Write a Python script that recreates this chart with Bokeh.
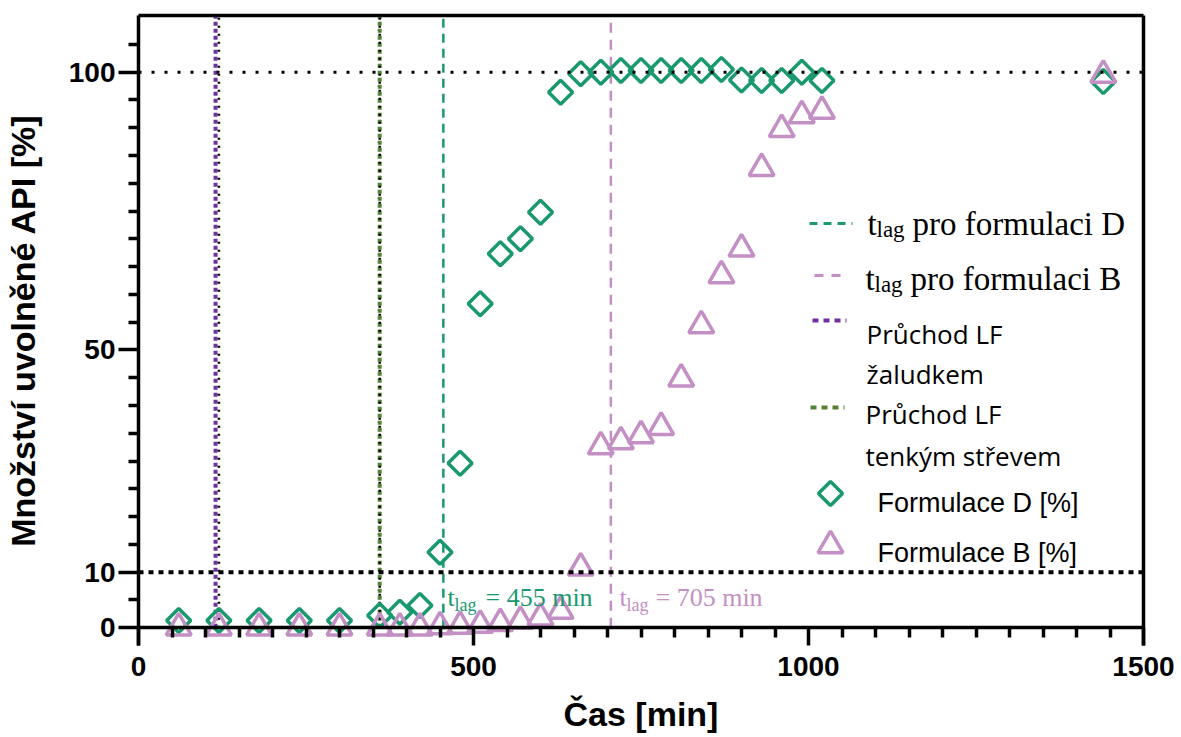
import numpy as np
from bokeh.plotting import figure
from bokeh.models import Range1d, FixedTicker, LinearAxis
from bokeh.core.properties import value
from bokeh.embed import file_html
from bokeh.resources import INLINE

# ---------------- data ----------------
time_d = [60, 120, 180, 240, 300, 360, 390, 420, 450, 480, 510, 540, 570, 600, 630, 660,
          690, 720, 750, 780, 810, 840, 870, 900, 930, 960, 990, 1020, 1440]
release_d = [1.3, 1.3, 1.3, 1.3, 1.3, 2.2, 2.8, 4.0, 13.6, 29.6, 58.3, 67.3, 70.0, 74.8, 96.4, 99.7,
             100.0, 100.3, 100.3, 100.3, 100.3, 100.3, 100.5, 98.6, 98.5, 98.5, 100.0, 98.5, 98.3]
time_b = [60, 120, 180, 240, 300, 360, 390, 420, 450, 480, 510, 540, 570, 600, 630, 660,
          690, 720, 750, 780, 810, 840, 870, 900, 930, 960, 990, 1020, 1440]
release_b = [0.0, 0.0, 0.0, 0.0, 0.0, 0.0, 0.0, 0.0, 0.2, 0.3, 0.5, 0.8, 1.2, 1.8, 3.0, 10.8,
             32.6, 33.5, 34.6, 36.1, 44.8, 54.4, 63.4, 68.2, 82.7, 89.7, 92.2, 93.0, 99.5]

tlag_d = 455
tlag_b = 705
stomach_passage = 115
intestine_passage = 360
prism_ref_x = [120, 360]
ref_levels_y = [100, 10]

x_ticks = [0, 500, 1000, 1500]
x_minor = [v for v in range(50, 1500, 50) if v % 500]
y_ticks = [0, 10, 50, 100]
y_minor = [5, 15, 20, 25, 30, 35, 40, 45, 55, 60, 65, 70, 75, 80, 85, 90, 95, 105]

# ---------------- styles ----------------
C_D = "#1a9870"
C_B = "#c48fc4"
C_PURPLE = "#7030a0"
C_OLIVE = "#548235"
SERIF = value("Liberation Serif")
SANS = value("Liberation Sans")
OPEN = value("Open Sans")

X0, X1 = 0, 1500
Y0, Y1 = -3.2, 110.2
FL, FT, FW, FH = 136, 15, 1005, 630


def dx(px):
    return X0 + (px - FL) / FW * (X1 - X0)


def dy(py):
    return Y1 - (py - FT) / FH * (Y1 - Y0)


p = figure(frame_width=FW, frame_height=FH,
           x_range=Range1d(X0, X1), y_range=Range1d(Y0, Y1),
           output_backend="svg", toolbar_location=None,
           min_border_left=FL, min_border_right=40, min_border_top=FT, min_border_bottom=92)
p.grid.visible = False
p.outline_line_color = None
p.background_fill_color = "white"
p.border_fill_color = "white"

# x axis line and minor ticks at y = 0
xa = p.xaxis[0]
xa.fixed_location = 0
xa.ticker = FixedTicker(ticks=[], minor_ticks=x_minor)
xa.axis_line_width = 3.5
xa.axis_line_color = "black"
xa.major_tick_in = 0
xa.major_tick_out = 0
xa.minor_tick_in = 0
xa.minor_tick_out = 10
xa.minor_tick_line_width = 3.5
xa.major_label_standoff = 0

# x axis labels and major ticks (axis below the frame, ticks reaching up to y = 0)
xl = LinearAxis(ticker=FixedTicker(ticks=x_ticks))
xl.axis_line_color = None
xl.major_tick_in = 18
xl.major_tick_out = 0
xl.major_tick_line_width = 3.5
xl.major_tick_line_color = "black"
xl.minor_tick_line_color = None
xl.minor_tick_in = 0
xl.minor_tick_out = 0
xl.major_label_text_font = "Liberation Sans"
xl.major_label_text_font_style = "bold"
xl.major_label_text_font_size = "28px"
xl.major_label_text_color = "black"
xl.major_label_standoff = 11
xl.axis_label = "Čas [min]"
xl.axis_label_text_font = "Liberation Sans"
xl.axis_label_text_font_style = "bold"
xl.axis_label_text_font_size = "34px"
xl.axis_label_text_color = "black"
xl.axis_label_standoff = 16
p.add_layout(xl, "below")

ya = p.yaxis[0]
ya.ticker = FixedTicker(ticks=y_ticks, minor_ticks=y_minor)
ya.axis_line_width = 3.5
ya.axis_line_color = "black"
ya.major_tick_in = 0
ya.major_tick_out = 20
ya.major_tick_line_width = 3.5
ya.minor_tick_in = 0
ya.minor_tick_out = 10
ya.minor_tick_line_width = 3.5
ya.major_label_text_font = "Liberation Sans"
ya.major_label_text_font_style = "bold"
ya.major_label_text_font_size = "28px"
ya.major_label_text_color = "black"
ya.major_label_standoff = 3
ya.axis_label = "Množství uvolněné API [%]"
ya.axis_label_text_font = "Liberation Sans"
ya.axis_label_text_font_style = "bold"
ya.axis_label_text_font_size = "34px"
ya.axis_label_text_color = "black"
ya.axis_label_standoff = 24

for loc in ("above", "right"):
    ax = LinearAxis(ticker=FixedTicker(ticks=[]), axis_line_width=3.5, axis_line_color="black",
                    major_tick_in=0, major_tick_out=0, minor_tick_in=0, minor_tick_out=0,
                    major_label_standoff=0)
    p.add_layout(ax, loc)

# vertical reference lines
p.segment(x0=[stomach_passage], x1=[stomach_passage], y0=[0], y1=[Y1],
          line_color=C_PURPLE, line_width=4, line_dash="4 3")
p.segment(x0=[intestine_passage], x1=[intestine_passage], y0=[0], y1=[Y1],
          line_color=C_OLIVE, line_width=4, line_dash="4 3")
p.segment(x0=prism_ref_x, x1=prism_ref_x, y0=[0, 0], y1=[Y1, Y1],
          line_color="black", line_width=2.5, line_dash="2 6")
p.segment(x0=[tlag_d], x1=[tlag_d], y0=[0], y1=[Y1],
          line_color=C_D, line_width=2.5, line_dash="9 6")
p.segment(x0=[tlag_b], x1=[tlag_b], y0=[0], y1=[Y1],
          line_color=C_B, line_width=2.5, line_dash="10 7")

# data markers
p.scatter(time_d, release_d, marker="square", angle=np.pi / 4, size=17,
          line_color=C_D, line_width=3.5, fill_color=None)
p.scatter(time_b, release_b, marker="triangle", size=25,
          line_color=C_B, line_width=3.5, fill_color=None)

# horizontal dotted reference lines
p.segment(x0=[X0], x1=[X1], y0=[ref_levels_y[0]], y1=[ref_levels_y[0]],
          line_color="black", line_width=3, line_dash="3 10")
p.segment(x0=[X0], x1=[X1], y0=[ref_levels_y[1]], y1=[ref_levels_y[1]],
          line_color="black", line_width=4, line_dash="5 5")


def tlag_text(px, py, color, main_size, sub_size, t_dx, rest_dx, rest, sub_drop):
    p.text(x=[dx(px)], y=[dy(py)], text=["t"], text_font=SERIF, text_font_size=main_size,
           text_color=color, text_baseline="alphabetic", text_align="left")
    p.text(x=[dx(px + t_dx)], y=[dy(py + sub_drop)], text=["lag"], text_font=SERIF,
           text_font_size=sub_size, text_color=color, text_baseline="alphabetic", text_align="left")
    p.text(x=[dx(px + rest_dx)], y=[dy(py)], text=[rest], text_font=SERIF,
           text_font_size=main_size, text_color=color, text_baseline="alphabetic", text_align="left")


# annotations near the axis
tlag_text(445, 597, C_D, "26px", "18px", 7, 38, "= %d min" % tlag_d, 7)
tlag_text(617, 597, C_B, "26px", "18px", 7, 36, "= %d min" % tlag_b, 7)

# legend
p.segment(x0=[dx(807)], x1=[dx(850)], y0=[dy(223)], y1=[dy(223)],
          line_color=C_D, line_width=3, line_dash="8 6")
tlag_text(865, 223, "black", "33px", "23px", 9, 45, "pro formulaci D", 6)
p.segment(x0=[dx(812)], x1=[dx(845)], y0=[dy(275)], y1=[dy(275)],
          line_color=C_B, line_width=3, line_dash="9 8")
tlag_text(863, 278, "black", "33px", "23px", 9, 45, "pro formulaci B", 6)
p.segment(x0=[dx(810)], x1=[dx(844)], y0=[dy(320)], y1=[dy(320)],
          line_color=C_PURPLE, line_width=4, line_dash="6 5")
p.segment(x0=[dx(808)], x1=[dx(842)], y0=[dy(407)], y1=[dy(407)],
          line_color=C_OLIVE, line_width=4, line_dash="6 5")
p.text(x=[dx(864), dx(864), dx(863), dx(863)], y=[dy(333), dy(373), dy(413), dy(455)],
       text=["Průchod LF", "žaludkem", "Průchod LF", "tenkým střevem"],
       text_font=OPEN, text_font_size="26px", text_color="black",
       text_baseline="alphabetic", text_align="left")
p.scatter([dx(828)], [dy(493)], marker="square", angle=np.pi / 4, size=17,
          line_color=C_D, line_width=3.5, fill_color=None)
p.scatter([dx(828)], [dy(545)], marker="triangle", size=25,
          line_color=C_B, line_width=3.5, fill_color=None)
p.text(x=[dx(875), dx(875)], y=[dy(502), dy(552)],
       text=["Formulace D [%]", "Formulace B [%]"],
       text_font=SANS, text_font_size="27px", text_color="black",
       text_baseline="alphabetic", text_align="left")

open("out.html", "w").write(file_html(p, INLINE))
